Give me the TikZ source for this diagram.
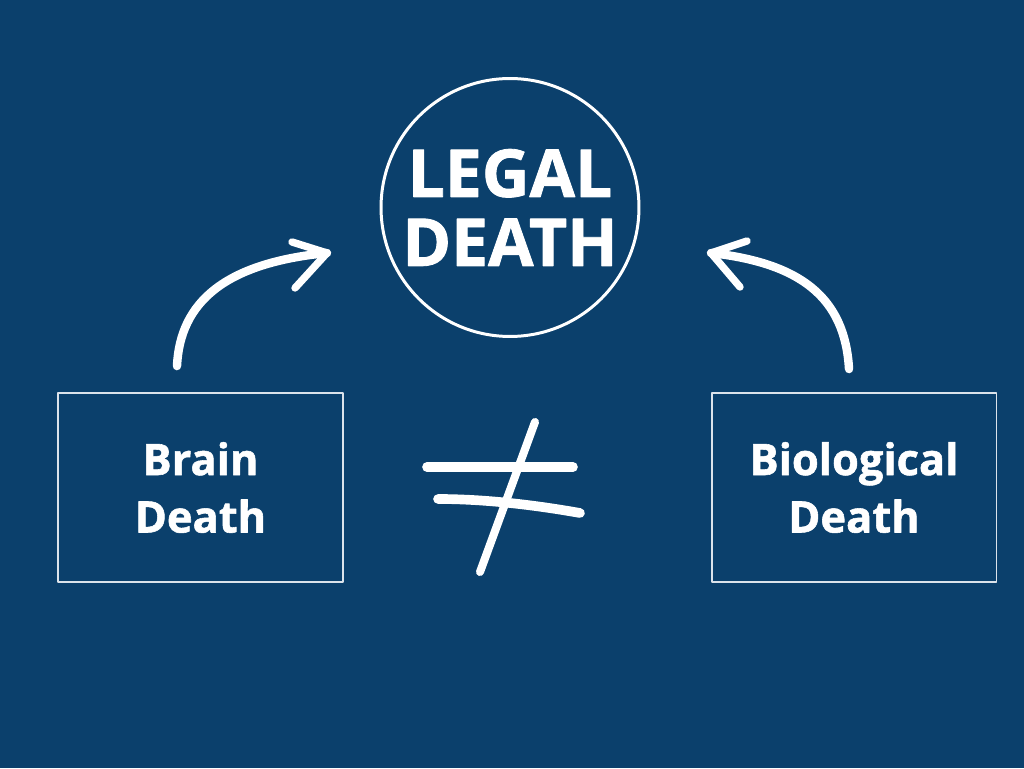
\documentclass[tikz,border=0pt]{standalone}
\usepackage{fontspec}
\setmainfont{Open Sans}[BoldFeatures={FakeBold=1.3}]
\usepackage{tikz}
\usetikzlibrary{arrows.meta,positioning,calc}
\definecolor{deepnavy}{HTML}{0B406C}
\definecolor{chalk}{HTML}{FFFFFF}
\definecolor{frameline}{HTML}{DCE3EB}
\tikzset{
    every picture/.style={line cap=round,line join=round},
    verdictnode/.style={draw=chalk,circle,line width=1.7pt,
      minimum size=5.16cm,inner sep=0pt,text=chalk,
      font=\fontsize{37.5}{39.3}\selectfont\bfseries,align=center},
    deathbox/.style={draw=frameline,line width=1.1pt,
      minimum width=5.7cm,minimum height=3.78cm,inner sep=0pt,text=chalk,
      font=\fontsize{24.7}{32.7}\selectfont\bfseries,align=center},
    brushline/.style={draw=chalk,line width=4.8pt},
    barbline/.style={draw=chalk,line width=4.2pt},
    neqbar/.style={draw=chalk,line width=5.5pt}
}
\begin{document}
\begin{tikzpicture}[x=0.02cm,y=0.02cm]
  \fill[deepnavy] (0,0) rectangle (1024,768);
  \node[verdictnode] (legal) at (510,560.5) {LEGAL\\DEATH};
  \node[deathbox] (brain) at (200.5,280.5) {Brain\\Death};
  \node[deathbox] (bio) at (854,280.5) {Biological\\Death};
  % free ends of the two curved arrows
  \coordinate (braintail) at ($(brain.north)+(-23.5,26)$);
  \coordinate (braintip) at ($(legal.center)+(-183,-45.5)$);
  \coordinate (biotail) at ($(bio.north)+(-5,23)$);
  \coordinate (biotip) at ($(legal.center)+(201,-45.5)$);
  \draw[brushline] (braintail) .. controls ($(braintail)+(3,64)$) and ($(braintip)+(-102,-10)$) .. (braintip);
  \draw[barbline] ($(braintip)+(-35,11)$) -- (braintip) -- ($(braintip)+(-32,-35)$);
  \draw[brushline] (biotail) .. controls ($(biotail)+(-4,72)$) and ($(biotip)+(89,-10)$) .. (biotip);
  \draw[barbline] ($(biotip)+(36,12)$) -- (biotip) -- ($(biotip)+(29,-34)$);
  % not equal sign
  \coordinate (neq) at (505,280);
  \begin{scope}[shift={(neq)}]
    \draw[neqbar] (-78,21) -- (68,21);
    \draw[neqbar] (-67,-11) .. controls (-20,-11) and (30,-17) .. (75,-25);
    \draw[neqbar,line width=4.6pt] (30,66) -- (-25,-84);
  \end{scope}
\end{tikzpicture}
\end{document}
